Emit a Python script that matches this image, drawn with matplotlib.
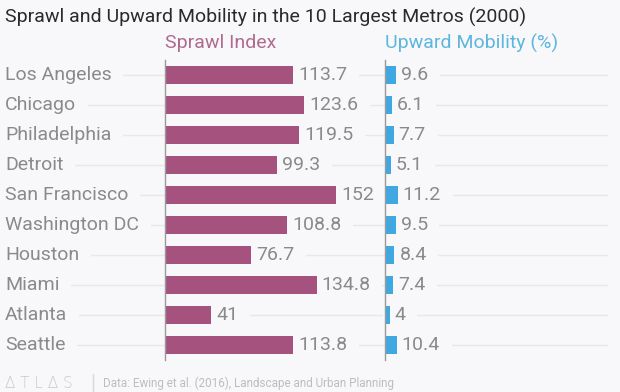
import matplotlib
matplotlib.use("Agg")
import matplotlib.pyplot as plt
from matplotlib import transforms
from matplotlib.lines import Line2D

metros = ["Los Angeles", "Chicago", "Philadelphia", "Detroit", "San Francisco",
          "Washington DC", "Houston", "Miami", "Atlanta", "Seattle"]
sprawl = [113.7, 123.6, 119.5, 99.3, 152, 108.8, 76.7, 134.8, 41, 113.8]
mobility = [9.6, 6.1, 7.7, 5.1, 11.2, 9.5, 8.4, 7.4, 4, 10.4]
sprawl_labels = ["113.7", "123.6", "119.5", "99.3", "152", "108.8", "76.7", "134.8", "41", "113.8"]
mobility_labels = ["9.6", "6.1", "7.7", "5.1", "11.2", "9.5", "8.4", "7.4", "4", "10.4"]

BG = "#f8f8fa"
PINK = "#a5527f"
BLUE = "#40a8e0"
GRAY = "#8a8a8a"
GRID = "#e8e8ec"
FONT = "Roboto"
FS = 14

W, H = 620, 392
fig = plt.figure(figsize=(W / 100, H / 100), dpi=100)
fig.patch.set_facecolor(BG)

scale = 1.125  # px per unit, shared by both panels
top_px, bot_px = 60, 360

def axes_rect(x0, x1):
    return [x0 / W, 1 - bot_px / H, (x1 - x0) / W, (bot_px - top_px) / H]

ax1 = fig.add_axes(axes_rect(165, 375))
ax2 = fig.add_axes(axes_rect(385, 612))
for ax, x0, x1 in [(ax1, 165, 375), (ax2, 385, 612)]:
    ax.set_xlim(0, (x1 - x0) / scale)
    ax.set_ylim(len(metros) - 0.5, -0.5)
    ax.set_facecolor("none")
    for s in ["top", "right", "bottom"]:
        ax.spines[s].set_visible(False)
    ax.spines["left"].set_color("#9a9a9a")
    ax.spines["left"].set_linewidth(1.0)
    ax.spines["left"].set_zorder(5)
    ax.set_xticks([])
    ax.set_yticks([])

y = list(range(len(metros)))
ax1.barh(y, sprawl, height=0.6, color=PINK, zorder=4)
ax2.barh(y, mobility, height=0.6, color=BLUE, zorder=4)

bbox = dict(facecolor=BG, edgecolor="none", boxstyle="square,pad=0.6")
for i in y:
    ax1.annotate(sprawl_labels[i], (sprawl[i], i), xytext=(5, 0), textcoords="offset pixels",
                 va="center", ha="left", fontsize=FS, color=GRAY, family=FONT,
                 bbox=bbox, zorder=3)
    ax2.annotate(mobility_labels[i], (mobility[i], i), xytext=(5, 0), textcoords="offset pixels",
                 va="center", ha="left", fontsize=FS, color=GRAY, family=FONT,
                 bbox=bbox, zorder=3)

# gridlines across the whole width, behind everything
blend = transforms.blended_transform_factory(fig.transFigure, ax1.transData)
for i in y:
    fig.add_artist(Line2D([0.0, 607 / W], [i, i], transform=blend, color=GRID,
                          linewidth=1.0, zorder=-1))

# category labels
for i, name in enumerate(metros):
    fig.text(5 / W, i, name, transform=blend, va="center", ha="left",
             fontsize=FS, color=GRAY, family=FONT,
             bbox=dict(facecolor=BG, edgecolor="none", boxstyle="square,pad=0.6"))

# headers
fig.text(165 / W, 1 - 43 / H, "Sprawl Index", fontsize=FS, color="#b06a92",
         family=FONT, va="center", ha="left")
fig.text(385 / W, 1 - 43 / H, "Upward Mobility (%)", fontsize=FS, color="#5cb6de",
         family=FONT, va="center", ha="left")

# title
fig.text(5 / W, 1 - 17 / H, "Sprawl and Upward Mobility in the 10 Largest Metros (2000)",
         fontsize=FS, color="#2a2a2a", family=FONT, va="center", ha="left")

# footer
fig.text(5 / W, 1 - 383 / H, "Δ T L Δ S", fontsize=11, color="#c8c8c8", family="DejaVu Sans",
         fontweight="light", va="center", ha="left")
fig.add_artist(Line2D([93 / W, 93 / W], [1 - 374 / H, 1 - 391 / H],
                      transform=fig.transFigure, color="#d8d8d8", linewidth=1))
fig.text(103 / W, 1 - 383 / H, "Data: Ewing et al. (2016), Landscape and Urban Planning",
         fontsize=8.4, color="#bdbdbd", family=FONT, va="center", ha="left")

fig.savefig("out.png", dpi=100, facecolor=BG)
